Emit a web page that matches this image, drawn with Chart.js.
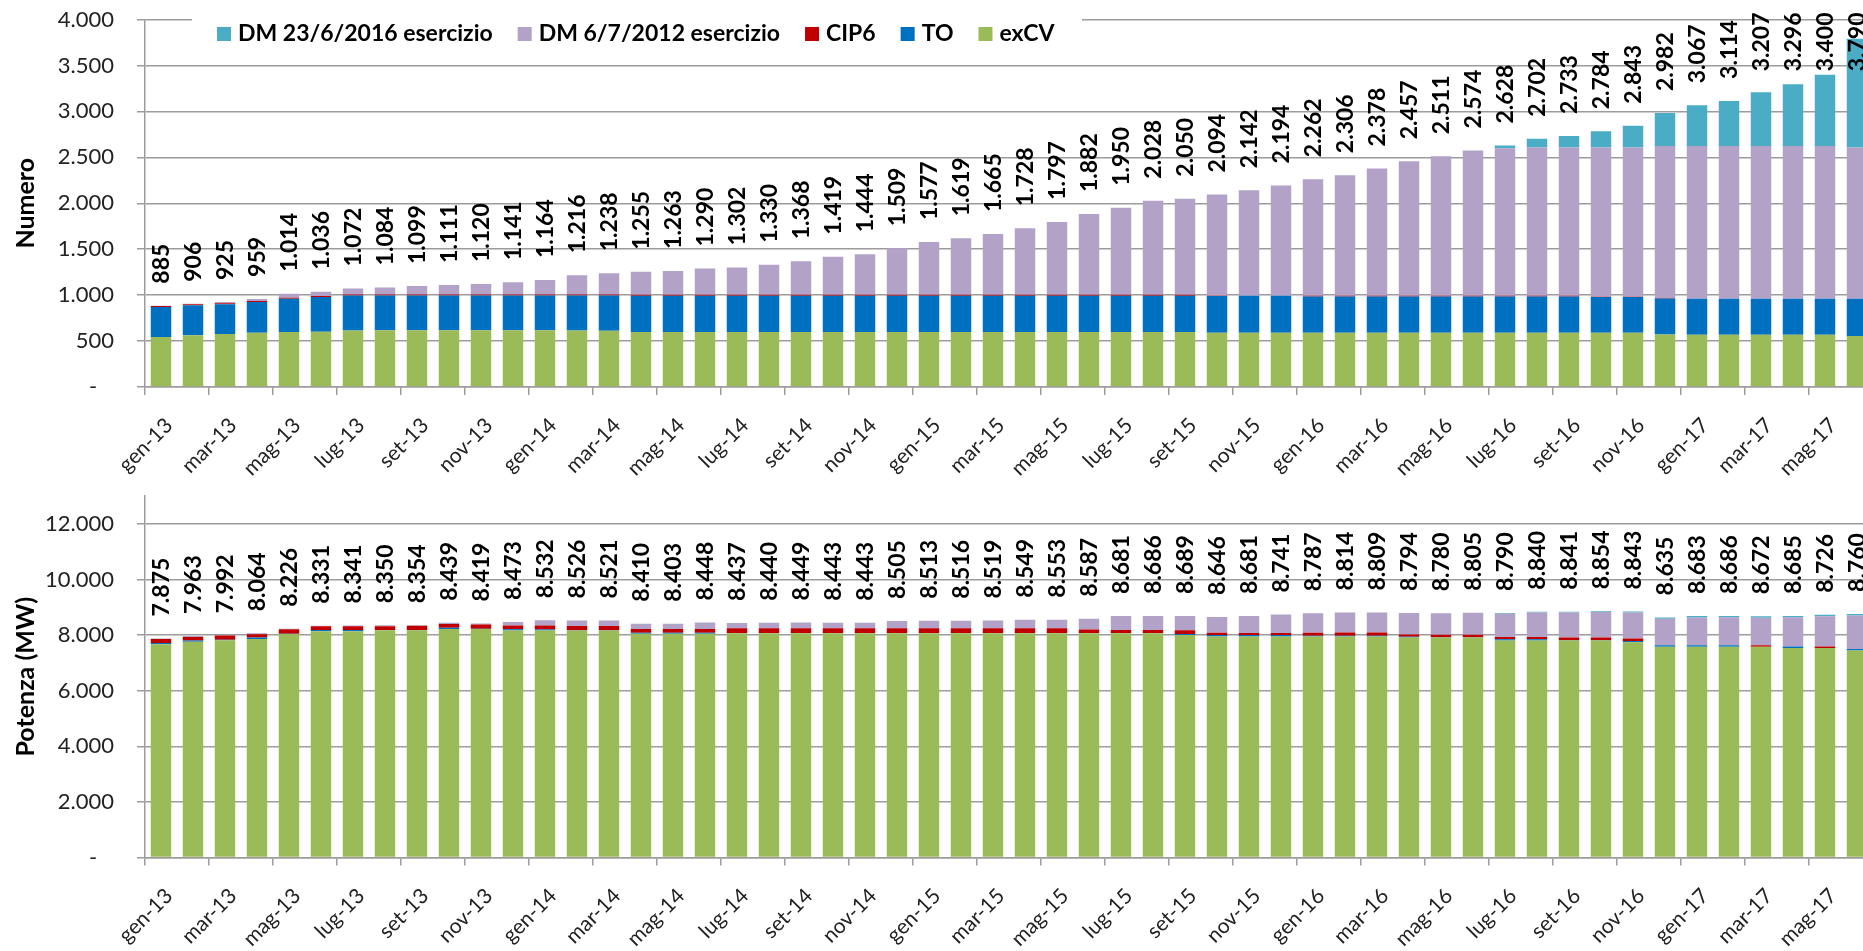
<!DOCTYPE html>
<html>
<head>
<meta charset="utf-8">
<script src="https://cdn.jsdelivr.net/npm/chart.js@4.4.1/dist/chart.umd.min.js"></script>
<style>
  html, body { margin: 0; padding: 0; background: #fff; overflow: hidden; width: 1863px; height: 951px; }
  #numChart { position: absolute; left: 0; top: 0; }
  #mwChart { position: absolute; left: 0; top: 480px; }
</style>
</head>
<body>
<canvas id="numChart" width="1873" height="480"></canvas>
<canvas id="mwChart" width="1873" height="471"></canvas>
<script>
// --- categories (monthly, gen-13 .. giu-17) ---
const months = [
  'gen-13','feb-13','mar-13','apr-13','mag-13','giu-13','lug-13','ago-13','set-13','ott-13','nov-13','dic-13',
  'gen-14','feb-14','mar-14','apr-14','mag-14','giu-14','lug-14','ago-14','set-14','ott-14','nov-14','dic-14',
  'gen-15','feb-15','mar-15','apr-15','mag-15','giu-15','lug-15','ago-15','set-15','ott-15','nov-15','dic-15',
  'gen-16','feb-16','mar-16','apr-16','mag-16','giu-16','lug-16','ago-16','set-16','ott-16','nov-16','dic-16',
  'gen-17','feb-17','mar-17','apr-17','mag-17','giu-17'
];

const seriesNames = ['exCV', 'TO', 'CIP6', 'DM 6/7/2012 esercizio', 'DM 23/6/2016 esercizio'];
const seriesColors = ['#9BBB59', '#0070C0', '#C00000', '#B3A2C7', '#4BACC6'];

// y tick values
const numTicks = [0, 500, 1000, 1500, 2000, 2500, 3000, 3500, 4000];
const mwTicks = [0, 2000, 4000, 6000, 8000, 10000, 12000];

// --- Numero (top chart) ---
const numExCV = [545,562,577,591,600,602,615,617,617,617,617,617,617,615,612,
  600,600,600,600,600,600,600,600,600,600,600,600,600,600,600,600,600,600,
  590,590,590,590,590,590,590,590,590,590,590,590,590,590,
  572,570,570,570,570,570,555];
const numTO = [325,327,323,334,360,377,380,378,378,378,378,378,378,380,383,
  394,394,394,394,394,394,394,394,394,394,394,394,394,394,394,394,394,394,
  400,402,402,396,396,396,396,396,396,396,396,396,389,389,
  390,391,391,391,391,391,406];
const numCIP6 = [12,12,12,12,12,12,12,12,12,12,12,12,12,12,12,
  10,10,10,10,10,10,10,10,10,10,10,10,10,10,10,10,10,10,
  2,2,2,8,8,8,8,8,8,8,8,8,2,2,
  8,0,0,0,0,0,0];
const numDM2012 = [3,5,13,22,42,45,65,77,92,104,113,134,157,209,231,
  251,259,286,298,326,364,415,440,505,573,615,661,724,793,878,946,1024,1046,
  1102,1148,1200,1268,1312,1384,1463,1517,1580,1606,1614,1614,1627,1627,
  1652,1661,1661,1661,1661,1661,1647];
const numDM2016 = [0,0,0,0,0,0,0,0,0,0,0,0,0,0,0,0,0,0,0,0,0,0,0,0,0,0,0,0,0,0,
  0,0,0,0,0,0,0,0,0,0,0,0,
  28,94,125,176,235,360,445,492,585,674,778,1182];

// --- Potenza MW (bottom chart) ---
const mwExCV = [7670,7760,7810,7860,8040,8140,8140,8170,8170,8220,8220,8165,8160,8165,8165,
  8050,8050,8050,8060,8060,8060,8060,8060,8060,8060,8060,8060,8060,8060,8060,8060,8060,
  8000,7950,7950,7950,7950,7950,7950,7910,7910,7910,7800,7800,7800,7800,7740,
  7575,7575,7575,7575,7530,7530,7440];
const mwTO = [40,40,20,50,5,45,45,10,10,45,10,40,40,10,10,30,30,30,
  10,10,10,10,10,10,10,10,10,10,10,10,10,10,
  40,50,50,50,20,20,20,30,10,10,50,50,10,10,50,
  55,55,55,0,55,0,55];
const mwCIP6 = [150,130,150,120,160,130,130,140,150,130,150,140,140,150,150,140,140,140,
  170,170,170,170,170,170,170,170,170,170,170,130,110,110,
  130,80,70,70,110,120,120,80,90,90,80,80,100,100,90,
  0,0,0,55,0,55,0];
const mwDM2012 = [15,33,12,34,21,16,26,30,24,44,39,128,192,201,196,190,183,228,197,200,
  209,203,203,265,273,276,279,309,313,387,501,506,519,566,611,671,707,724,719,774,
  770,795,840,880,901,914,933,957,1005,1008,994,1052,1093,1205];
const mwDM2016 = [0,0,0,0,0,0,0,0,0,0,0,0,0,0,0,0,0,0,0,0,0,0,0,0,0,0,0,0,0,0,
  0,0,0,0,0,0,0,0,0,0,0,0,
  20,30,30,30,30,48,48,48,48,48,48,60];

const gridGray = '#9C9C9C';
const fmt = v => String(Math.round(v)).replace(/\B(?=(\d{3})+(?!\d))/g, '.');

Chart.defaults.font.family = 'Lato, sans-serif';

// rotated totals above each stack
const totalLabels = {
  id: 'totalLabels',
  afterDatasetsDraw(chart) {
    const { ctx, chartArea, scales: { x, y } } = chart;
    ctx.save();
    ctx.font = 'bold 23px Lato';
    ctx.fillStyle = '#000';
    ctx.textAlign = 'left';
    ctx.textBaseline = 'middle';
    chart.data.labels.forEach((_, i) => {
      const tot = chart.data.datasets.reduce((s, d) => s + d.data[i], 0);
      const txt = fmt(tot);
      const w = ctx.measureText(txt).width;
      // keep the label inside the plot, as Excel does for the tallest bars
      const base = Math.max(y.getPixelForValue(tot) - 22, chartArea.top - 7 + w);
      ctx.save();
      ctx.translate(x.getPixelForValue(i), base);
      ctx.rotate(-Math.PI / 2);
      ctx.fillText(txt, 0, 1);
      ctx.restore();
    });
    ctx.restore();
  }
};

// legend box laid over the top gridline, like the original
const boxLegend = {
  id: 'boxLegend',
  afterDraw(chart) {
    const ctx = chart.ctx;
    ctx.save();
    ctx.fillStyle = '#fff';
    ctx.fillRect(192, 2, 890, 48);
    ctx.font = 'bold 23px Lato';
    ctx.textBaseline = 'middle';
    ctx.textAlign = 'left';
    let xPos = 217;
    chart.data.datasets.slice().reverse().forEach(ds => {
      ctx.fillStyle = ds.backgroundColor;
      ctx.fillRect(xPos, 27, 14, 14);
      ctx.fillStyle = '#000';
      ctx.fillText(ds.label, xPos + 21, 34);
      xPos += 21 + ctx.measureText(ds.label).width + 25;
    });
    ctx.restore();
  }
};

function makeChart(id, series, yMax, yTicks, title, padTop, xHeight, plugins) {
  return new Chart(document.getElementById(id), {
    type: 'bar',
    data: {
      labels: months,
      datasets: series.map((data, k) => ({
        label: seriesNames[k],
        data: data,
        backgroundColor: seriesColors[k],
        borderWidth: 0,
        categoryPercentage: 1,
        barPercentage: 0.64,
      })),
    },
    options: {
      responsive: false,
      animation: false,
      layout: { padding: { top: padTop, left: 0, right: 0, bottom: 0 } },
      plugins: { legend: { display: false }, tooltip: { enabled: false } },
      scales: {
        x: {
          stacked: true,
          grid: {
            offset: true,
            drawOnChartArea: false,
            drawTicks: true,
            tickLength: 8,
            lineWidth: 1.5,
            color: c => (c.index % 2 === 0 ? gridGray : 'rgba(0,0,0,0)'),
          },
          border: { display: true, color: gridGray, width: 1.5 },
          ticks: {
            autoSkip: false,
            maxRotation: 45,
            minRotation: 45,
            padding: 18,
            labelOffset: 8,
            color: '#222',
            font: { size: 21 },
            callback: (v, i) => (i % 2 === 0 ? months[i] : ''),
          },
          afterFit: s => {
            s.height = xHeight;
            s.paddingLeft = 0;
            s.paddingRight = 0;
          },
        },
        y: {
          stacked: true,
          min: 0,
          max: yMax,
          afterBuildTicks: s => { s.ticks = yTicks.map(v => ({ value: v })); },
          ticks: {
            padding: 23,
            color: '#222',
            font: { size: 22 },
            callback: v => (v === 0 ? '-   ' : fmt(v)),
          },
          grid: { color: gridGray, lineWidth: 1.5, tickLength: 8 },
          border: { display: true, color: gridGray, width: 1.5 },
          title: {
            display: true,
            text: title,
            color: '#000',
            font: { size: 25, weight: 'bold' },
            padding: { top: 11, bottom: 0 },
          },
          afterFit: s => {
            s.width = 145;
            s.paddingTop = 0;
            s.paddingBottom = 0;
          },
        },
      },
    },
    plugins: plugins,
  });
}

makeChart('numChart',
  [numExCV, numTO, numCIP6, numDM2012, numDM2016],
  4000, numTicks, 'Numero', 19.5, 93, [totalLabels, boxLegend]);

makeChart('mwChart',
  [mwExCV, mwTO, mwCIP6, mwDM2012, mwDM2016],
  13000, mwTicks, 'Potenza (MW)', 16, 93.5, [totalLabels]);
</script>
</body>
</html>
